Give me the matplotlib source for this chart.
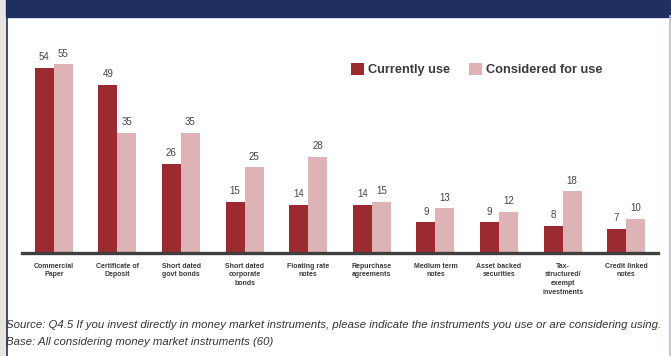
import matplotlib.pyplot as plt
from matplotlib import font_manager
from matplotlib.patches import Rectangle
from matplotlib.lines import Line2D
import numpy as np

# data
categories = ["Commercial\nPaper", "Certificate of\nDeposit", "Short dated\ngovt bonds",
              "Short dated\ncorporate\nbonds", "Floating rate\nnotes", "Repurchase\nagreements",
              "Medium term\nnotes", "Asset backed\nsecurities",
              "Tax-\nstructured/\nexempt\ninvestments", "Credit linked\nnotes"]
currently_use = [54, 49, 26, 15, 14, 14, 9, 9, 8, 7]
considered_use = [55, 35, 35, 25, 28, 15, 13, 12, 18, 10]

source_text = ("Source: Q4.5 If you invest directly in money market instruments, "
               "please indicate the instruments you use or are considering using.")
base_text = "Base: All considering money market instruments (60)"

dark_red = "#9C2B31"
pink = "#DDB3B5"
navy = "#1F3060"

names = {f.name for f in font_manager.fontManager.ttflist}
narrow = "Liberation Sans Narrow" if "Liberation Sans Narrow" in names else "Liberation Sans"

W, H = 671, 356
fig = plt.figure(figsize=(W / 100, H / 100), dpi=100)
fig.patch.set_facecolor("white")

# frame decorations: grey strip, navy header, borders
fig.patches.append(Rectangle((0, 0), 6 / W, 1, transform=fig.transFigure, color="#E7E5E1", zorder=0))
fig.patches.append(Rectangle((6 / W, 1 - 16.5 / H), 1, 16.5 / H, transform=fig.transFigure, color=navy, zorder=1))
fig.lines.append(Line2D([6.8 / W, 6.8 / W], [0, 1 - 16 / H], transform=fig.transFigure, color=navy, lw=1.2))
fig.lines.append(Line2D([669.5 / W, 669.5 / W], [0, 1 - 16 / H], transform=fig.transFigure, color="#B9BDCC", lw=1.2))

ax = fig.add_axes([22 / W, (H - 253) / H, 636 / W, 206 / H])
x = np.arange(len(categories))
w = 0.3
b1 = ax.bar(x - w / 2, currently_use, w, color=dark_red, label="Currently use", zorder=2)
b2 = ax.bar(x + w / 2, considered_use, w, color=pink, label="Considered for use", zorder=2)

for bars in (b1, b2):
    ax.bar_label(bars, padding=4, fontsize=7, color="#444444", family=narrow)

ax.set_xlim(-0.5, len(categories) - 0.5)
ax.set_ylim(0, 60)
for s in ("top", "right", "left"):
    ax.spines[s].set_visible(False)
ax.spines["bottom"].set_linewidth(2.4)
ax.spines["bottom"].set_color("#3F3F3F")
ax.spines["bottom"].set_zorder(3)
ax.set_yticks([])
ax.set_xticks(x)
ax.set_xticklabels(categories, fontsize=5, fontweight="bold", color="#3A3A3A", family=narrow,
                   linespacing=1.35, va="top")
ax.tick_params(axis="x", length=0, pad=7)

leg = ax.legend(loc="upper left", bbox_to_anchor=(351 / W, 1 - 63 / H), bbox_transform=fig.transFigure,
                ncol=2, frameon=False, handlelength=1.05, handleheight=1.05, handletextpad=0.25,
                columnspacing=1.5, borderpad=0, borderaxespad=0,
                prop={"family": narrow, "weight": "bold", "size": 9.2})
for t in leg.get_texts():
    t.set_color("#3A3A3A")

src = fig.text(6 / W, 1 - 325 / H, source_text, fontsize=9, style="italic", color="#333333",
               family=narrow, va="center", ha="left")
# shrink the source line so it fits the 661 px the reference uses
fig.canvas.draw()
tw = src.get_window_extent().width
size = 9 * 658 / tw
src.set_fontsize(size)
fig.text(6 / W, 1 - 342 / H, base_text, fontsize=size, style="italic", color="#333333",
         family=narrow, va="center", ha="left")

fig.savefig("out.png", dpi=100)
